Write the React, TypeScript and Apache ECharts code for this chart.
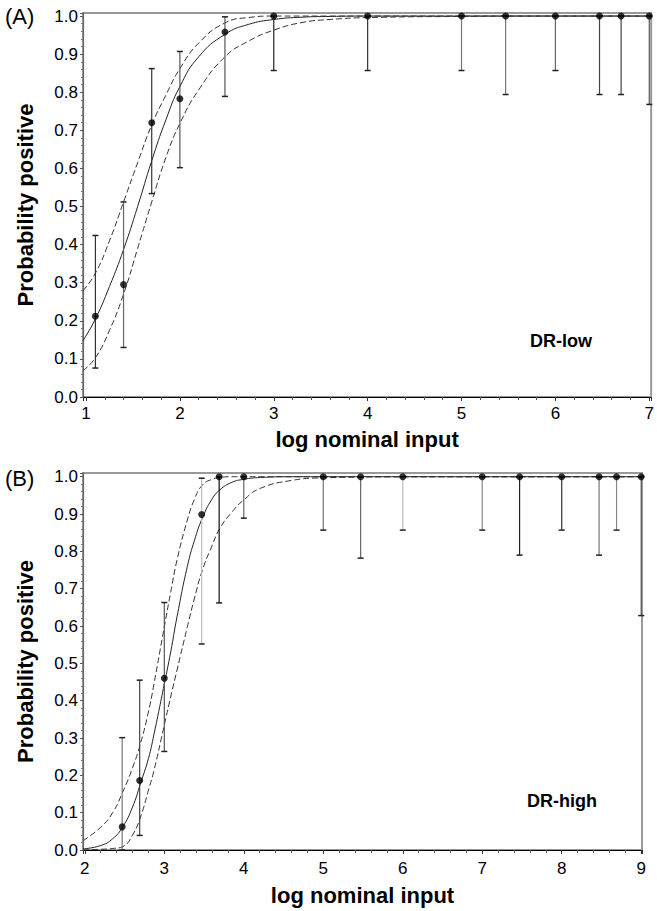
import React, { useEffect, useRef } from "react";
import * as echarts from "echarts";

// ---------- Panel A (DR-low) ----------
const A_X = [1.1, 1.4, 1.7, 2.0, 2.48, 3.0, 4.0, 5.0, 5.47, 6.0, 6.47, 6.7, 7.0];
const A_P = [0.212, 0.295, 0.72, 0.783, 0.958, 1, 1, 1, 1, 1, 1, 1, 1];
const A_LO = [0.076, 0.13, 0.534, 0.602, 0.789, 0.857, 0.857, 0.857, 0.794, 0.857, 0.794, 0.794, 0.768];
const A_HI = [0.424, 0.512, 0.862, 0.907, 0.998, 1, 1, 1, 1, 1, 1, 1, 1];
const A_SHADE = ["#333", "#666", "#333", "#555", "#555", "#222", "#333", "#777", "#777", "#666", "#444", "#444", "#555"];

const A_CURVE_X = [0.968, 1.1, 1.25, 1.4, 1.55, 1.7, 1.85, 2.0, 2.2, 2.48, 2.73, 3.0, 3.3, 3.6, 4.0, 5.0, 6.0, 7.02];
const A_FIT = [0.148, 0.205, 0.29, 0.387, 0.5, 0.62, 0.727, 0.815, 0.893, 0.952, 0.978, 0.991, 0.997, 0.999, 1, 1, 1, 1];
const A_FIT_UP = [0.279, 0.325, 0.41, 0.512, 0.615, 0.714, 0.792, 0.862, 0.929, 0.982, 0.996, 1, 1, 1, 1, 1, 1, 1];
const A_FIT_LO = [0.069, 0.103, 0.175, 0.27, 0.39, 0.512, 0.628, 0.718, 0.806, 0.893, 0.934, 0.963, 0.983, 0.991, 0.996, 0.999, 1, 1];

// ---------- Panel B (DR-high) ----------
const B_X = [2.47, 2.69, 3.0, 3.47, 3.69, 4.0, 5.0, 5.47, 6.0, 7.0, 7.47, 8.0, 8.47, 8.69, 9.0];
const B_P = [0.062, 0.186, 0.46, 0.899, 1, 1, 1, 1, 1, 1, 1, 1, 1, 1, 1];
const B_LO = [0.0, 0.039, 0.264, 0.552, 0.662, 0.889, 0.857, 0.782, 0.857, 0.857, 0.79, 0.857, 0.79, 0.857, 0.628];
const B_HI = [0.301, 0.455, 0.663, 0.996, 1, 1, 1, 1, 1, 1, 1, 1, 1, 1, 1];
const B_SHADE = ["#777", "#444", "#555", "#bbb", "#111", "#666", "#777", "#666", "#bbb", "#888", "#222", "#333", "#777", "#888", "#555"];

const B_CURVE_X = [1.977, 2.2, 2.35, 2.476, 2.6, 2.7, 2.8, 2.87, 3.0, 3.08, 3.16, 3.29, 3.38, 3.48, 3.6, 3.7, 3.85, 4.0, 4.21, 4.6, 5.0, 6.0, 9.01];
const B_FIT = [0.003, 0.012, 0.03, 0.062, 0.115, 0.178, 0.245, 0.31, 0.445, 0.53, 0.625, 0.76, 0.83, 0.89, 0.94, 0.965, 0.985, 0.993, 0.998, 1, 1, 1, 1];
const B_FIT_UP = [0.025, 0.061, 0.1, 0.155, 0.22, 0.285, 0.37, 0.445, 0.598, 0.69, 0.777, 0.884, 0.94, 0.978, 0.993, 0.998, 1, 1, 1, 1, 1, 1, 1];
const B_FIT_LO = [0.0, 0.002, 0.004, 0.009, 0.04, 0.088, 0.16, 0.213, 0.335, 0.41, 0.482, 0.598, 0.675, 0.75, 0.815, 0.862, 0.905, 0.938, 0.969, 0.99, 0.997, 1, 1];

const X_TITLE = "log nominal input";
const Y_TITLE = "Probability positive";

const FONT = "'Liberation Sans', Arial, Helvetica, sans-serif";

const pairs = (xs: number[], ys: number[]) => xs.map((x, i) => [x, ys[i]]);

function errorSeries(xs: number[], lo: number[], hi: number[], shades: string[], axis: number) {
  return {
    type: "custom",
    xAxisIndex: axis,
    yAxisIndex: axis,
    z: 3,
    clip: false,
    data: xs.map((x, i) => [x, lo[i], hi[i]]),
    encode: { x: 0, y: [1, 2] },
    renderItem: (params: any, api: any) => {
      const x = api.value(0);
      const p1 = api.coord([x, api.value(1)]);
      const p2 = api.coord([x, api.value(2)]);
      const c = shades[params.dataIndex] || "#444";
      const w = 3;
      return {
        type: "group",
        children: [
          { type: "line", shape: { x1: p1[0], y1: p1[1], x2: p2[0], y2: p2[1] }, style: { stroke: c, lineWidth: 1.2 } },
          { type: "line", shape: { x1: p1[0] - w, y1: p1[1], x2: p1[0] + w, y2: p1[1] }, style: { stroke: "#222", lineWidth: 1.5 } },
          { type: "line", shape: { x1: p2[0] - w, y1: p2[1], x2: p2[0] + w, y2: p2[1] }, style: { stroke: "#222", lineWidth: 1.5 } },
        ],
      };
    },
  };
}

function curve(xs: number[], ys: number[], axis: number, dashed: boolean) {
  return {
    type: "line",
    xAxisIndex: axis,
    yAxisIndex: axis,
    data: pairs(xs, ys),
    showSymbol: false,
    symbol: "none",
    smooth: 0.5,
    z: 2,
    lineStyle: { color: dashed ? "#333" : "#222", width: 1, type: dashed ? [6, 3] : "solid" },
  };
}

function points(xs: number[], ys: number[], axis: number) {
  return {
    type: "scatter",
    xAxisIndex: axis,
    yAxisIndex: axis,
    data: pairs(xs, ys),
    symbol: "circle",
    symbolSize: 7,
    z: 4,
    itemStyle: { color: "#000" },
  };
}

function xAxisCfg(grid: number, min: number, max: number, split: number, margin: number, gap: number) {
  return {
    type: "value",
    gridIndex: grid,
    min,
    max,
    splitNumber: split,
    name: X_TITLE,
    nameLocation: "middle",
    nameGap: gap,
    nameTextStyle: { fontFamily: FONT, fontSize: 22, fontWeight: "bold", color: "#000" },
    axisLine: { show: true, onZero: false, lineStyle: { color: "#000", width: 1.2 } },
    axisTick: { show: true, inside: false, length: 4, lineStyle: { color: "#333" } },
    minorTick: { show: true, splitNumber: 5, length: 3, lineStyle: { color: "#555" } },
    splitLine: { show: false },
    axisLabel: {
      show: true,
      showMinLabel: false,
      showMaxLabel: false,
      margin,
      fontFamily: FONT,
      fontSize: 17,
      color: "#000",
      formatter: (v: number) => String(Math.round(v)),
    },
  };
}

function yAxisCfg(grid: number, max: number) {
  return {
    type: "value",
    gridIndex: grid,
    min: 0,
    max,
    splitNumber: 10,
    name: Y_TITLE,
    nameLocation: "middle",
    nameGap: 47,
    nameTextStyle: { fontFamily: FONT, fontSize: 22, fontWeight: "bold", color: "#000" },
    axisLine: { show: true, onZero: false, lineStyle: { color: "#666", width: 1.2 } },
    axisTick: { show: true, inside: false, length: 3, lineStyle: { color: "#555" } },
    minorTick: { show: true, splitNumber: 5, length: 2, lineStyle: { color: "#777" } },
    splitLine: { show: false },
    axisLabel: {
      show: true,
      showMinLabel: true,
      showMaxLabel: false,
      margin: 5,
      fontFamily: FONT,
      fontSize: 17,
      color: "#000",
      formatter: (v: number) => v.toFixed(1),
    },
  };
}

export default function App() {
  const ref = useRef<HTMLDivElement>(null);

  useEffect(() => {
    if (!ref.current) return;
    const chart = echarts.init(ref.current, undefined, { renderer: "svg" });
    const option: any = {
      animation: false,
      backgroundColor: "#fff",
      grid: [
        { left: 83, top: 13, width: 572, height: 384, show: true, borderColor: "#999", borderWidth: 2, backgroundColor: "transparent" },
        { left: 83, top: 473, width: 559, height: 377, show: true, borderColor: "#999", borderWidth: 2, backgroundColor: "transparent" },
      ],
      xAxis: [
        xAxisCfg(0, 0.968, 7.02, 6, 8, 31),
        xAxisCfg(1, 1.977, 9.01, 7, 10, 34),
      ],
      yAxis: [yAxisCfg(0, 1.008), yAxisCfg(1, 1.01)],
      series: [
        curve(A_CURVE_X, A_FIT, 0, false),
        curve(A_CURVE_X, A_FIT_UP, 0, true),
        curve(A_CURVE_X, A_FIT_LO, 0, true),
        errorSeries(A_X, A_LO, A_HI, A_SHADE, 0),
        points(A_X, A_P, 0),
        curve(B_CURVE_X, B_FIT, 1, false),
        curve(B_CURVE_X, B_FIT_UP, 1, true),
        curve(B_CURVE_X, B_FIT_LO, 1, true),
        errorSeries(B_X, B_LO, B_HI, B_SHADE, 1),
        points(B_X, B_P, 1),
      ],
      graphic: [
        { type: "text", left: 5, top: 5, style: { text: "(A)", font: `22px ${FONT}`, fill: "#000" } },
        { type: "text", left: 5, top: 467, style: { text: "(B)", font: `22px ${FONT}`, fill: "#000" } },
        { type: "text", left: 530, top: 332, style: { text: "DR-low", font: `bold 18px ${FONT}`, fill: "#000" } },
        { type: "text", left: 527, top: 792, style: { text: "DR-high", font: `bold 18px ${FONT}`, fill: "#000" } },
      ],
    };
    chart.setOption(option);
    return () => chart.dispose();
  }, []);

  return (
    <div
      ref={ref}
      style={{ position: "fixed", left: 0, top: 0, width: 657, height: 911, background: "#fff" }}
    />
  );
}
